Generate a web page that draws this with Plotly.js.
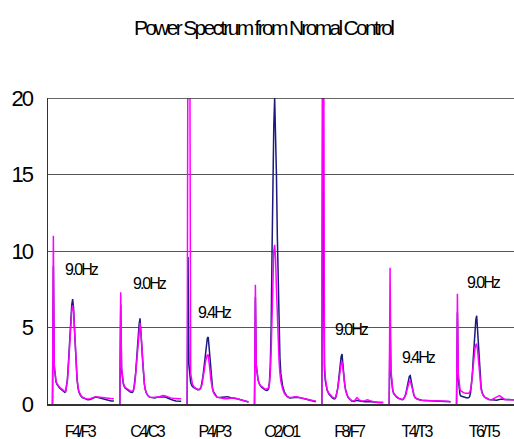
<!DOCTYPE html>
<html><head><meta charset="utf-8">
<script src="https://cdn.plot.ly/plotly-3.0.1.min.js"></script>
<style>
html,body{margin:0;padding:0;background:#fff;overflow:hidden}
#chart{width:514px;height:439px}
.gtitle{letter-spacing:-2.7px}
.xtick text{letter-spacing:-2.5px}
.ytick text{letter-spacing:-2px}
.annotation-text{letter-spacing:-2px}
</style></head><body><div id="chart"></div><script>
// Channel pairs (x tick labels) and peak labels
const channels = ['F4/F3','C4/C3','P4/P3','O2/O1','F8/F7','T4/T3','T6/T5'];
const peakLabels = ['9.0Hz','9.0Hz','9.4Hz','9.0Hz','9.0Hz','9.4Hz','9.0Hz'];
// Frequency bins (Hz) shared by every panel
const freqHz = [0,0.39,0.78,1.17,1.56,1.95,2.34,3.13,3.91,4.69,5.47,5.86,6.25,6.64,7.03,7.42,7.81,8.20,8.59,8.98,9.38,9.77,10.16,10.55,10.94,11.33,11.72,12.5,13.28,14.45,15.63,16.8,17.97,19.14,20.31,21.48,22.66,23.83,25.0,26.17,27.34];

// navy series
const navyF4F3 = [0,9.0,2.4,1.7,1.45,1.3,1.2,1.05,0.95,0.85,0.76,0.8,1.1,1.6,2.5,3.6,4.8,5.8,6.5,6.86,6.3,5.0,3.6,2.4,1.6,1.1,0.8,0.55,0.42,0.35,0.28,0.3,0.38,0.45,0.42,0.38,0.3,0.25,0.22,0.2,0.2];
const navyC4C3 = [0,6.5,2.2,1.6,1.3,1.15,1.05,0.95,0.85,0.78,0.75,0.8,1.0,1.4,2.0,2.8,3.7,4.5,5.2,5.6,4.9,3.8,2.8,1.9,1.3,0.95,0.75,0.55,0.45,0.42,0.4,0.45,0.48,0.45,0.45,0.38,0.3,0.25,0.2,0.18,0.18];
const navyP4P3 = [0,9.6,2.6,1.7,1.4,1.25,1.15,1.05,0.98,0.94,0.95,1.0,1.15,1.4,1.8,2.3,2.9,3.5,4.0,4.3,4.38,3.7,2.7,1.9,1.35,1.0,0.8,0.6,0.45,0.42,0.45,0.5,0.48,0.42,0.4,0.38,0.32,0.28,0.22,0.15,0.13];
const navyO2O1 = [0,7.0,2.5,1.9,1.6,1.4,1.25,1.1,1.0,0.92,0.88,0.9,1.0,1.4,2.5,5.0,10.0,15.0,18.2,20.0,18.0,15.0,11.0,7.8,5.0,3.0,2.0,1.2,0.8,0.5,0.4,0.42,0.46,0.44,0.4,0.38,0.33,0.28,0.22,0.18,0.15];
const navyF8F7 = [0,22,8,2.2,1.5,1.1,0.9,0.65,0.5,0.4,0.33,0.35,0.45,0.65,1.0,1.5,2.1,2.7,3.1,3.27,2.5,1.8,1.3,0.95,0.7,0.55,0.42,0.3,0.2,0.17,0.25,0.2,0.17,0.15,0.17,0.15,0.12,0.1,0.1,0.1,0.1];
const navyT4T3 = [0,5.0,2.0,1.2,0.9,0.7,0.6,0.48,0.38,0.32,0.28,0.28,0.3,0.38,0.5,0.7,0.95,1.25,1.6,1.8,1.85,1.5,1.1,0.8,0.6,0.48,0.4,0.33,0.28,0.24,0.23,0.22,0.22,0.22,0.22,0.2,0.18,0.15,0.15,0.15,0.15];
const navyT6T5 = [0,6.0,1.6,0.8,0.6,0.52,0.5,0.46,0.43,0.4,0.42,0.5,0.75,1.2,1.9,2.9,3.9,4.8,5.5,5.77,4.8,3.5,2.4,1.6,1.1,0.8,0.62,0.45,0.38,0.3,0.28,0.26,0.24,0.3,0.33,0.3,0.28,0.28,0.28,0.28,0.28];

// magenta series
const magF4F3 = [0,11.0,2.6,1.8,1.5,1.35,1.25,1.1,1.0,0.9,0.82,0.85,1.1,1.5,2.3,3.3,4.4,5.4,6.1,6.45,6.1,5.0,3.7,2.5,1.7,1.2,0.85,0.6,0.45,0.38,0.32,0.35,0.4,0.48,0.45,0.42,0.4,0.4,0.38,0.36,0.35];
const magC4C3 = [0,7.3,2.4,1.7,1.4,1.2,1.1,1.0,0.9,0.85,0.83,0.85,1.0,1.3,1.9,2.6,3.4,4.2,4.9,5.3,4.7,3.7,2.7,1.9,1.3,0.95,0.75,0.55,0.45,0.42,0.42,0.45,0.5,0.55,0.52,0.45,0.4,0.38,0.35,0.35,0.35];
const magP4P3 = [0,30,30,24,2.0,1.5,1.3,1.1,1.0,0.95,0.95,1.0,1.1,1.3,1.6,2.0,2.4,2.8,3.1,3.2,3.2,2.8,2.2,1.6,1.2,0.95,0.75,0.55,0.45,0.4,0.38,0.35,0.35,0.38,0.4,0.38,0.32,0.28,0.25,0.18,0.15];
const magO2O1 = [0,7.8,2.6,1.9,1.6,1.4,1.25,1.15,1.05,0.98,0.98,1.0,1.05,1.3,2.0,3.5,6.0,8.5,10.0,10.4,9.5,7.5,5.5,4.0,2.8,2.0,1.5,1.0,0.7,0.5,0.42,0.44,0.48,0.46,0.42,0.4,0.35,0.3,0.28,0.22,0.18];
const magF8F7 = [0,32,28,2.6,1.7,1.2,0.95,0.7,0.55,0.45,0.4,0.4,0.48,0.65,0.95,1.35,1.8,2.3,2.65,2.8,2.2,1.6,1.2,0.9,0.7,0.55,0.45,0.32,0.22,0.2,0.42,0.25,0.2,0.22,0.28,0.22,0.15,0.12,0.1,0.1,0.1];
const magT4T3 = [0,8.9,2.2,1.3,0.95,0.75,0.62,0.5,0.4,0.34,0.3,0.3,0.32,0.38,0.48,0.62,0.85,1.1,1.35,1.48,1.5,1.3,1.0,0.75,0.58,0.46,0.38,0.32,0.28,0.25,0.23,0.22,0.22,0.22,0.22,0.22,0.22,0.22,0.2,0.18,0.15];
const magT6T5 = [0,7.2,2.0,1.1,0.94,0.85,0.8,0.74,0.7,0.68,0.7,0.78,0.94,1.3,1.9,2.6,3.2,3.6,3.85,3.94,3.5,2.7,1.9,1.3,0.95,0.75,0.6,0.45,0.38,0.3,0.28,0.35,0.46,0.55,0.4,0.3,0.28,0.28,0.28,0.28,0.28];

const yTicks = [0,5,10,15,20];

const navyPanels = [navyF4F3,navyC4C3,navyP4P3,navyO2O1,navyF8F7,navyT4T3,navyT6T5];
const magPanels = [magF4F3,magC4C3,magP4P3,magO2O1,magF8F7,magT4T3,magT6T5];

// layout helpers (positions only)
const panelStep = 30;           // axis units between panel origins
const tickShift = 12;           // label position inside panel
const labelPos = [[13.0,8.78],[13.3,7.9],[12.3,6.0],[9.1,20.74],[13.4,4.86],[13.3,3.03],[12.2,7.93]];

function build(panels){
  const xs=[], ys=[];
  panels.forEach((arr,i)=>{
    arr.forEach((v,j)=>{ xs.push(i*panelStep+freqHz[j]); ys.push(v); });
    xs.push(null); ys.push(null);
  });
  return {xs, ys};
}
const nv = build(navyPanels), mg = build(magPanels);

const FONT = 'Liberation Sans, Arial, Helvetica, sans-serif';

const traces = [
  {x:nv.xs, y:nv.ys, type:'scatter', mode:'lines', line:{color:'#1a1a80', width:1.5}, connectgaps:false, hoverinfo:'skip'},
  {x:mg.xs, y:mg.ys, type:'scatter', mode:'lines', line:{color:'#ff00ff', width:1.5}, connectgaps:false, hoverinfo:'skip'}
];

const annotations = peakLabels.map((t,i)=>({
  x: i*panelStep + labelPos[i][0], y: labelPos[i][1], xref:'x', yref:'y',
  text:t, showarrow:false, xanchor:'center', yanchor:'middle',
  font:{family:FONT, size:16, color:'#000'}
}));

const layout = {
  width:514, height:439,
  margin:{l:48, r:0, t:98, b:35, pad:0},
  paper_bgcolor:'#fff', plot_bgcolor:'#fff',
  showlegend:false,
  title:{text:'Power Spectrum from Nromal Control', x:0.512, xanchor:'center', y:0.936, yanchor:'middle',
         font:{family:FONT, size:21, color:'#000'}},
  xaxis:{range:[-2.0,205.6], showgrid:false, zeroline:false,
         showline:true, linecolor:'#333', linewidth:2, mirror:false,
         tickmode:'array', tickvals:channels.map((c,i)=>i*panelStep+tickShift), ticktext:channels,
         ticks:'', ticklabelstandoff:12,
         tickfont:{family:FONT, size:16, color:'#000'}},
  yaxis:{range:[0,20], tickmode:'array', tickvals:yTicks, ticktext:yTicks.map(String),
         showgrid:true, gridcolor:'#555', gridwidth:1, zeroline:false,
         showline:true, linecolor:'#333', linewidth:1.5,
         ticks:'', ticklabelstandoff:10,
         tickfont:{family:FONT, size:22, color:'#000'}},
  shapes:[{type:'line', xref:'paper', yref:'y', x0:0, x1:1, y0:20, y1:20, line:{color:'#333', width:1.5}}],
  annotations
};

Plotly.newPlot('chart', traces, layout, {displayModeBar:false, staticPlot:true});
</script></body></html>
